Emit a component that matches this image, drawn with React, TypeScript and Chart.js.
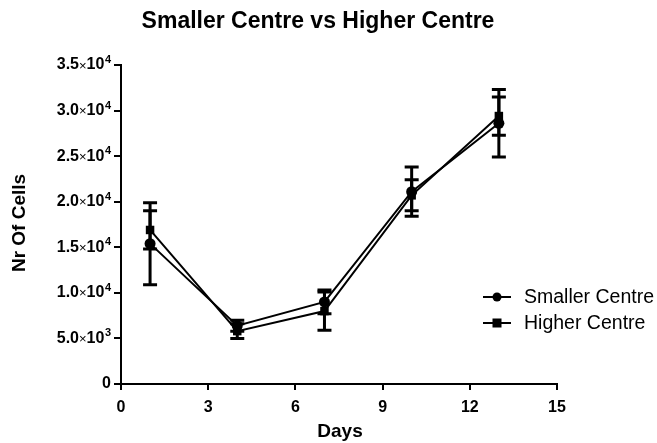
import { useEffect, useRef } from "react";
import { Chart, registerables } from "chart.js";

Chart.register(...registerables);

const chartTitle = "Smaller Centre vs Higher Centre";
const xTitle = "Days";
const yTitle = "Nr Of Cells";
const seriesNames = ["Smaller Centre", "Higher Centre"];
const days = [1, 4, 7, 10, 13];
const smallerMean = [15400, 6400, 9000, 21100, 28600];
const smallerErr = [4500, 600, 1300, 2700, 3700];
const higherMean = [16900, 5800, 8000, 20700, 29400];
const higherErr = [2100, 800, 2100, 1700, 2100];
const xMin = 0, xMax = 15, xStep = 3;
const yMin = 0, yMax = 35000, yStep = 5000;

const FONT = "'Liberation Sans', Arial, sans-serif";

function tickParts(v: number): { mant: string; exp: string } {
  if (v === 0) return { mant: "0", exp: "" };
  const exp = Math.floor(Math.log10(v) + 1e-9);
  const m = v / Math.pow(10, exp);
  return { mant: m.toFixed(1), exp: String(exp) };
}

const errorBarPlugin = {
  id: "errorBars",
  beforeDatasetsDraw(chart: any) {
    const ctx = chart.ctx;
    const ys = chart.scales.y;
    const xs = chart.scales.x;
    const errs = [smallerErr, higherErr];
    const means = [smallerMean, higherMean];
    ctx.save();
    ctx.strokeStyle = "#000";
    ctx.lineWidth = 3;
    for (let d = 0; d < 2; d++) {
      for (let i = 0; i < days.length; i++) {
        const x = xs.getPixelForValue(days[i]);
        const yt = ys.getPixelForValue(means[d][i] + errs[d][i]);
        const yb = ys.getPixelForValue(means[d][i] - errs[d][i]);
        ctx.beginPath();
        ctx.moveTo(x, yt);
        ctx.lineTo(x, yb);
        ctx.moveTo(x - 7, yt);
        ctx.lineTo(x + 7, yt);
        ctx.moveTo(x - 7, yb);
        ctx.lineTo(x + 7, yb);
        ctx.stroke();
      }
    }
    ctx.restore();
  },
};

const textPlugin = {
  id: "texts",
  afterDraw(chart: any) {
    const ctx = chart.ctx;
    ctx.save();
    ctx.fillStyle = "#000";
    ctx.textAlign = "center";
    ctx.textBaseline = "middle";
    ctx.font = `bold 23px ${FONT}`;
    ctx.fillText(chartTitle, 318, 22);
    ctx.font = `bold 19px ${FONT}`;
    ctx.fillText(xTitle, 340, 432);
    ctx.save();
    ctx.translate(20, 223);
    ctx.rotate(-Math.PI / 2);
    ctx.fillText(yTitle, 0, 0);
    ctx.restore();

    // y tick labels with superscript exponents
    const ys = chart.scales.y;
    ctx.textAlign = "left";
    ctx.textBaseline = "middle";
    const right = 111;
    for (const t of ys.ticks) {
      const y = ys.getPixelForValue(t.value);
      const p = tickParts(t.value);
      const fMant = `bold 16px ${FONT}`;
      const fTimes = `13px ${FONT}`;
      const fExp = `bold 11px ${FONT}`;
      if (!p.exp) {
        ctx.font = fMant;
        const w = ctx.measureText(p.mant).width;
        ctx.fillText(p.mant, right - w, y);
        continue;
      }
      ctx.font = fMant;
      const w1 = ctx.measureText(p.mant).width;
      const w3 = ctx.measureText("10").width;
      ctx.font = fTimes;
      const w2 = ctx.measureText("×").width;
      ctx.font = fExp;
      const w4 = ctx.measureText(p.exp).width;
      let x = right - (w1 + w2 + w3 + w4 + 0.5);
      ctx.font = fMant;
      ctx.fillText(p.mant, x, y);
      x += w1;
      ctx.font = fTimes;
      ctx.fillText("×", x, y + 1);
      x += w2;
      ctx.font = fMant;
      ctx.fillText("10", x, y);
      x += w3 + 0.5;
      ctx.font = fExp;
      ctx.fillText(p.exp, x, y - 5);
    }

    // legend
    const rows = [297, 323];
    ctx.strokeStyle = "#000";
    ctx.lineWidth = 2;
    for (let k = 0; k < 2; k++) {
      const y = rows[k];
      ctx.beginPath();
      ctx.moveTo(483, y);
      ctx.lineTo(511, y);
      ctx.stroke();
      ctx.beginPath();
      if (k === 0) {
        ctx.arc(497, y, 4.5, 0, Math.PI * 2);
        ctx.fill();
      } else {
        ctx.fillRect(492.5, y - 4.5, 9, 9);
      }
      ctx.textAlign = "left";
      ctx.textBaseline = "middle";
      ctx.font = `19.5px ${FONT}`;
      ctx.fillText(seriesNames[k], 524, y + 1);
    }
    ctx.restore();
  },
};

export default function App() {
  const ref = useRef<HTMLCanvasElement | null>(null);
  useEffect(() => {
    if (!ref.current) return;
    const chart = new Chart(ref.current, {
      type: "line",
      data: {
        datasets: [
          {
            label: seriesNames[0],
            data: days.map((d, i) => ({ x: d, y: smallerMean[i] })),
            borderColor: "#000",
            backgroundColor: "#000",
            borderWidth: 2,
            pointStyle: "circle",
            pointRadius: 5.5,
            pointBorderWidth: 0,
            tension: 0,
          },
          {
            label: seriesNames[1],
            data: days.map((d, i) => ({ x: d, y: higherMean[i] })),
            borderColor: "#000",
            backgroundColor: "#000",
            borderWidth: 2,
            pointStyle: "rect",
            pointRadius: 6,
            pointBorderWidth: 0,
            tension: 0,
          },
        ],
      },
      options: {
        animation: false,
        responsive: false,
        devicePixelRatio: 1,
        layout: { padding: { top: 65, right: 100, bottom: 0, left: 0 } },
        plugins: { legend: { display: false }, tooltip: { enabled: false }, title: { display: false } },
        scales: {
          x: {
            type: "linear",
            min: xMin,
            max: xMax,
            afterFit: (s: any) => { s.height = 59; },
            ticks: { stepSize: xStep, color: "#000", font: { family: FONT, size: 16, weight: "bold" }, padding: 8, maxRotation: 0 },
            grid: { display: true, drawOnChartArea: false, drawTicks: true, tickLength: 6, color: "#000", lineWidth: 2 },
            border: { display: true, color: "#000", width: 2 },
          },
          y: {
            type: "linear",
            min: yMin,
            max: yMax,
            afterFit: (s: any) => { s.width = 121; },
            ticks: { stepSize: yStep, display: false },
            grid: { display: true, drawOnChartArea: false, drawTicks: true, tickLength: 7, color: "#000", lineWidth: 2 },
            border: { display: true, color: "#000", width: 2 },
          },
        },
      },
      plugins: [errorBarPlugin, textPlugin],
    });
    return () => chart.destroy();
  }, []);
  return (
    <div style={{ position: "absolute", left: 0, top: 0, width: 657, height: 443, background: "#fff" }}>
      <canvas ref={ref} width={657} height={443} />
    </div>
  );
}
